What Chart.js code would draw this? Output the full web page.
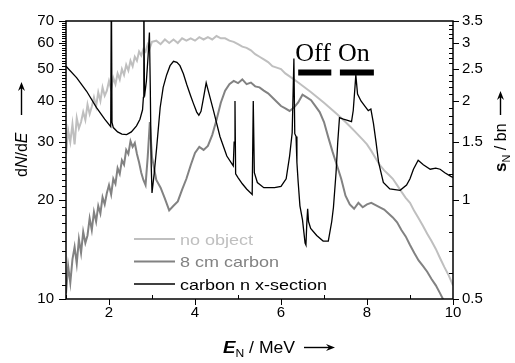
<!DOCTYPE html>
<html>
<head>
<meta charset="utf-8">
<script src="https://cdn.jsdelivr.net/npm/chart.js@4/dist/chart.umd.min.js"></script>
<style>
  html, body { margin: 0; padding: 0; background: #fff; }
  #wrap { width: 515px; height: 363px; }
</style>
</head>
<body>
<div id="wrap"><canvas id="myChart" width="515" height="363"></canvas></div>
<script>
// neutron energy grid (MeV) for the two spectra
const energy = [1.00,1.05,1.10,1.15,1.20,1.25,1.30,1.35,1.40,1.45,1.50,1.55,1.60,1.65,1.70,1.75,1.80,1.85,1.90,1.95,
  2.00,2.05,2.10,2.15,2.20,2.25,2.30,2.35,2.40,2.45,2.50,2.55,2.60,2.65,2.70,2.75,2.80,2.85,2.90,2.95,3.00,
  3.1,3.2,3.3,3.4,3.5,3.6,3.7,3.8,3.9,4.0,4.1,4.2,4.3,4.4,4.5,4.6,4.7,4.8,4.9,5.0,5.1,5.2,5.3,5.4,5.5,5.6,5.7,5.8,5.9,
  6.0,6.1,6.2,6.3,6.4,6.5,6.6,6.7,6.8,6.9,7.0,7.1,7.2,7.3,7.4,7.5,7.6,7.7,7.8,7.9,8.0,8.1,8.2,8.3,8.4,8.5,8.6,8.7,8.8,8.9,
  9.0,9.1,9.2,9.3,9.4,9.5,9.6,9.7,9.8,9.9,10.0];

// dN/dE, no object
const noObject = [27.5,32.5,30,34,29.5,35.5,33,34.5,37,35,39,36.5,38.5,41,38.5,42.5,40,44,41.5,43,
  46,43.5,47,45,48.5,46.5,50,48,51.5,49.5,53,51,54.5,53,56.5,55,57.5,56.5,59.5,58,60.5,
  61,59.5,61.5,60,61.5,60,62,61,62,61,62.5,61.5,62.5,61.5,63,62,62,61,60.5,59.5,58.5,58,57,55.5,54.5,53.5,52.5,51,50.5,
  50,48.5,47.5,46.5,45.5,44.5,43.5,42.5,41.5,40.5,39.5,38.5,37.5,36.5,35.5,34.5,33.5,32.5,31.5,30.5,29.5,28.2,26.8,25.5,24.6,23.9,23.2,22.2,21.2,20.3,
  19.6,18.5,17.6,16.7,15.8,15.0,14.2,13.3,12.5,11.8,11.0];

// dN/dE, behind 8 cm carbon
const carbon8cm = [10.4,12.6,11.2,13.2,14.4,12.8,15.2,13.8,16,14.8,15.6,17.6,16.2,18.4,17.2,19.2,18.2,20.4,19.4,21,
  22.2,20.8,23.2,22.4,25,24,26.4,25.6,28.4,27.6,30.2,29,29.8,27.6,26,24.2,23,22.2,27,34.5,27,
  23,21.8,20.2,18.6,19.2,19.8,21.5,23.2,25.5,27.8,29,28.4,29.2,31.5,35,39.5,43,45,46,45.3,46.5,45,45.5,44.3,44,43,42.2,41,39.8,
  38.6,38,37.3,38.2,39.6,41.8,41,40.2,38.6,37,34.5,31,28,25.5,23.2,20.6,19.4,18.8,19.6,19,19.4,19.6,19.3,19,18.7,18.2,17.7,17.1,16.2,15.5,
  14.6,13.8,13.1,12.6,12.1,11.5,11,10.4,9.8,9.3,8.8];

// carbon neutron cross section (bn)
const xsecEnergy = [1.00,1.25,1.48,1.71,1.90,2.04,2.055,2.07,2.10,2.20,2.30,2.41,2.52,2.64,2.72,2.78,2.80,2.81,2.825,2.87,
  2.91,2.94,2.96,2.98,3.00,3.05,3.11,3.19,3.26,3.34,3.42,3.50,3.58,3.65,3.73,3.81,3.90,3.96,4.04,4.09,
  4.14,4.20,4.26,4.32,4.43,4.58,4.74,4.89,4.91,4.93,4.945,5.00,5.10,5.20,5.33,5.355,5.38,5.45,5.60,5.85,
  6.00,6.12,6.20,6.26,6.30,6.32,6.35,6.37,6.40,6.44,6.50,6.56,6.58,6.60,6.62,6.64,6.69,6.83,6.98,7.10,
  7.18,7.22,7.28,7.32,7.36,7.45,7.53,7.64,7.68,7.72,7.74,7.78,7.86,7.95,8.03,8.09,8.15,8.21,8.27,8.38,
  8.53,8.77,8.92,9.00,9.08,9.19,9.31,9.47,9.60,9.70,9.81,9.95,10.0];
const xsecValue = [2.55,2.35,2.14,1.91,1.76,1.67,4.5,1.72,1.66,1.61,1.585,1.58,1.61,1.68,1.76,1.88,2.05,4.5,2.06,2.3,
  2.75,3.23,2.2,1.3,1.05,1.2,1.45,1.91,2.2,2.40,2.56,2.64,2.62,2.56,2.42,2.24,2.07,1.97,1.85,1.81,
  1.86,2.05,2.27,2.12,1.87,1.56,1.36,1.27,1.5,2.0,1.2,1.17,1.12,1.08,1.04,2.0,1.21,1.13,1.09,1.09,
  1.10,1.16,1.36,1.6,2.69,1.59,1.56,1.3,1.13,0.96,0.87,0.74,0.73,0.85,0.94,0.86,0.82,0.78,0.75,0.75,
  0.86,0.95,1.21,1.5,1.78,1.76,1.75,1.73,1.87,2.2,2.40,2.1,2.0,1.93,1.87,1.89,1.71,1.5,1.3,1.13,
  1.08,1.07,1.11,1.16,1.24,1.32,1.28,1.24,1.25,1.24,1.21,1.18,1.17];

// energy windows marked "Off" / "On"
const offWindow = [6.40, 7.17];
const onWindow = [7.37, 8.16];
const windowLevel = 2.44;

// tick values
const xTicks = [1,2,3,4,5,6,7,8,9,10];
const leftTicks = [];
for (let v = 10; v <= 70; v++) leftTicks.push(v);
const rightTicks = [0.5,0.6,0.7,0.8,0.9,1.0,1.1,1.2,1.3,1.4,1.5,1.6,1.7,1.8,1.9,2.0,2.1,2.2,2.3,2.4,2.5,2.6,2.7,2.8,2.9,3.0,3.1,3.2,3.3,3.4,3.5];

const SANS = '"Liberation Sans", Arial, sans-serif';
const SERIF = '"Liberation Serif", "Times New Roman", serif';
const LIGHT = '#bfbfbf';
const MID = '#828282';

function pts(xs, ys) { return xs.map((x, i) => ({ x: x, y: ys[i] })); }

function stretched(ctx, text, x, y, sx) {
  ctx.save();
  ctx.translate(x, y);
  ctx.scale(sx, 1);
  ctx.fillText(text, 0, 0);
  ctx.restore();
  return ctx.measureText(text).width * sx;
}

function arrow(ctx, x0, y, len) {
  ctx.beginPath();
  ctx.moveTo(x0, y);
  ctx.lineTo(x0 + len - 6, y);
  ctx.lineWidth = 1.4;
  ctx.stroke();
  ctx.beginPath();
  ctx.moveTo(x0 + len, y);
  ctx.lineTo(x0 + len - 9, y - 3.5);
  ctx.lineTo(x0 + len - 6, y);
  ctx.lineTo(x0 + len - 9, y + 3.5);
  ctx.closePath();
  ctx.fill();
}

const decorations = {
  id: 'decorations',
  afterDraw(chart) {
    const { ctx, chartArea: a, scales } = chart;
    ctx.save();
    ctx.strokeStyle = '#000';
    ctx.fillStyle = '#000';

    // frame
    ctx.lineWidth = 1.5;
    ctx.strokeRect(a.left, a.top, a.right - a.left, a.bottom - a.top);

    // tick marks
    ctx.lineWidth = 1;
    ctx.beginPath();
    scales.y.ticks.forEach(t => {
      const p = Math.round(scales.y.getPixelForValue(t.value)) + 0.5;
      const len = t.value % 10 === 0 ? 7 : 4;
      ctx.moveTo(a.left - len, p); ctx.lineTo(a.left, p);
    });
    scales.y2.ticks.forEach(t => {
      const p = Math.round(scales.y2.getPixelForValue(t.value)) + 0.5;
      const major = Math.round(t.value * 10) % 5 === 0;
      if (major) { ctx.moveTo(a.right, p); ctx.lineTo(a.right + 6, p); }
      else { ctx.moveTo(a.right - 4, p); ctx.lineTo(a.right, p); }
    });
    scales.x.ticks.forEach(t => {
      const p = Math.round(scales.x.getPixelForValue(t.value)) + 0.5;
      if (t.value % 2 === 0) { ctx.moveTo(p, a.bottom); ctx.lineTo(p, a.bottom + 6); }
      else { ctx.moveTo(p, a.bottom - 4); ctx.lineTo(p, a.bottom); }
    });
    ctx.stroke();

    // Off / On labels
    ctx.font = '26px ' + SERIF;
    ctx.textBaseline = 'alphabetic';
    ctx.textAlign = 'left';
    const ty = scales.y2.getPixelForValue(windowLevel) - 12;
    ctx.fillText('Off', scales.x.getPixelForValue(offWindow[0]) - 3, ty);
    ctx.fillText('On', scales.x.getPixelForValue(onWindow[0]) - 2, ty);

    // legend
    const rows = [
      { label: 'no object', color: LIGHT, w: 2 },
      { label: '8 cm carbon', color: MID, w: 2 },
      { label: 'carbon n x-section', color: '#000', w: 1.3 }
    ];
    ctx.font = '15px ' + SANS;
    rows.forEach((r, i) => {
      const y = 239 + i * 22.5;
      ctx.strokeStyle = r.color;
      ctx.lineWidth = r.w;
      ctx.beginPath(); ctx.moveTo(134, y); ctx.lineTo(175, y); ctx.stroke();
      ctx.fillStyle = r.color;
      stretched(ctx, r.label, 180, y + 5.5, 1.2);
    });
    ctx.fillStyle = '#000';
    ctx.strokeStyle = '#000';

    // x title: E_N / MeV ->
    let x = 223;
    const by = 353;
    ctx.font = 'italic bold 17px ' + SANS;
    x += stretched(ctx, 'E', x, by, 1.1);
    ctx.font = '11px ' + SANS;
    x += stretched(ctx, 'N', x, by + 4, 1.1);
    ctx.font = '16px ' + SANS;
    x += stretched(ctx, ' / MeV', x, by, 1.1);
    arrow(ctx, 304, by - 5.5, 31);

    // left title: dN/dE ->
    ctx.save();
    ctx.translate(27, 177);
    ctx.rotate(-Math.PI / 2);
    let u = 0;
    ctx.font = '16px ' + SANS;
    ctx.fillText('d', u, 0); u += ctx.measureText('d').width;
    ctx.font = 'italic 16px ' + SANS;
    ctx.fillText('N', u, 0); u += ctx.measureText('N').width;
    ctx.font = '16px ' + SANS;
    ctx.fillText('/d', u, 0); u += ctx.measureText('/d').width;
    ctx.font = 'italic 16px ' + SANS;
    ctx.fillText('E', u, 0); u += ctx.measureText('E').width;
    arrow(ctx, 62, -5.5, 33);
    ctx.restore();

    // right title: s_N / bn ->
    ctx.save();
    ctx.translate(506, 172);
    ctx.rotate(-Math.PI / 2);
    u = 0;
    ctx.font = 'bold 17px ' + SANS;
    ctx.fillText('s', u, 0); u += ctx.measureText('s').width;
    ctx.font = '11px ' + SANS;
    ctx.fillText('N', u, 4); u += ctx.measureText('N').width;
    ctx.font = '16px ' + SANS;
    ctx.fillText(' / bn', u, 0); u += ctx.measureText(' / bn').width;
    arrow(ctx, 57, -5.5, 24);
    ctx.restore();

    ctx.restore();
  }
};

const ctx = document.getElementById('myChart').getContext('2d');
const myChart = new Chart(ctx, {
  type: 'line',
  data: {
    datasets: [
      { label: 'carbon n x-section', data: pts(xsecEnergy, xsecValue), yAxisID: 'y2',
        borderColor: '#000', borderWidth: 1.3, pointRadius: 0, order: 0 },
      { label: 'Off', data: pts(offWindow, [windowLevel, windowLevel]), yAxisID: 'y2',
        borderColor: '#000', borderWidth: 6, borderCapStyle: 'butt', pointRadius: 0, order: 0 },
      { label: 'On', data: pts(onWindow, [windowLevel, windowLevel]), yAxisID: 'y2',
        borderColor: '#000', borderWidth: 6, borderCapStyle: 'butt', pointRadius: 0, order: 0 },
      { label: '8 cm carbon', data: pts(energy, carbon8cm), yAxisID: 'y',
        borderColor: MID, borderWidth: 2, pointRadius: 0, order: 1 },
      { label: 'no object', data: pts(energy, noObject), yAxisID: 'y',
        borderColor: LIGHT, borderWidth: 2, pointRadius: 0, order: 2 }
    ]
  },
  options: {
    responsive: false,
    animation: false,
    layout: { padding: { top: 15, left: 0, right: 0, bottom: 0 } },
    plugins: { legend: { display: false }, tooltip: { enabled: false } },
    scales: {
      x: {
        type: 'linear', min: 1, max: 10,
        afterFit(s) { s.height = 64; },
        afterBuildTicks(s) { s.ticks = xTicks.map(v => ({ value: v })); },
        grid: { display: false, drawTicks: false },
        border: { display: false },
        ticks: { autoSkip: false, maxRotation: 0, padding: 5, color: '#000',
          font: { family: SANS, size: 15 },
          callback: v => (v % 2 === 0 ? String(v) : '') }
      },
      y: {
        type: 'logarithmic', position: 'left', min: 10, max: 70,
        afterFit(s) { s.width = 66; },
        afterBuildTicks(s) { s.ticks = leftTicks.map(v => ({ value: v })); },
        grid: { display: false, drawTicks: false },
        border: { display: false },
        ticks: { autoSkip: false, padding: 12, color: '#000',
          font: { family: SANS, size: 15 },
          callback: v => (v % 10 === 0 ? String(v) : '') }
      },
      y2: {
        type: 'logarithmic', position: 'right', min: 0.5, max: 3.5,
        afterFit(s) { s.width = 62; },
        afterBuildTicks(s) { s.ticks = rightTicks.map(v => ({ value: v })); },
        grid: { display: false, drawTicks: false },
        border: { display: false },
        ticks: { autoSkip: false, padding: 9, color: '#000',
          font: { family: SANS, size: 15 },
          callback: v => (Math.round(v * 10) % 5 === 0 ? String(v) : '') }
      }
    }
  },
  plugins: [decorations]
});
</script>
</body>
</html>
